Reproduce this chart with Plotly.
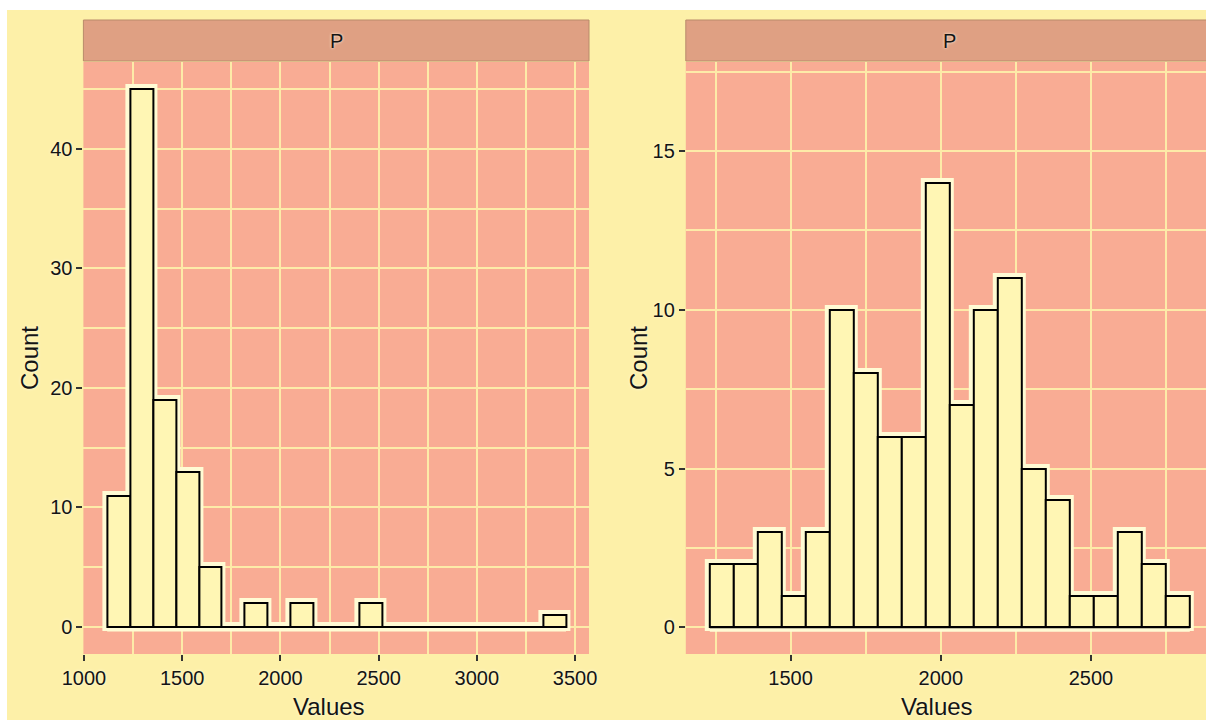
import plotly.graph_objects as go

# ---------------- data ----------------
left_bin_start = 1118.0
left_bin_width = 116.8
left_counts = [11, 45, 19, 13, 5, 0, 2, 0, 2, 0, 0, 2, 0, 0, 0, 0, 0, 0, 0, 1]

right_bin_start = 1231.0
right_bin_width = 79.9
right_counts = [2, 2, 3, 1, 3, 10, 8, 6, 6, 14, 7, 10, 11, 5, 4, 1, 1, 3, 2, 1]

left_xticks = [1000, 1500, 2000, 2500, 3000, 3500]
left_xminor = [1250, 1750, 2250, 2750, 3250]
left_yticks = [0, 10, 20, 30, 40]
left_yminor = [5, 15, 25, 35, 45]

right_xticks = [1500, 2000, 2500]
right_xminor = [1250, 1750, 2250, 2750]
right_yticks = [0, 5, 10, 15]
right_yminor = [2.5, 7.5, 12.5, 17.5]

strip_label = "P"
x_title = "Values"
y_title = "Count"

# ---------------- style ----------------
W, H = 1206, 720
BG = "#FDF0A8"
PANEL = "#F9AC94"
GRID = "#FDEBA8"
STRIP = "#DFA083"
STRIP_EDGE = "#B98A6B"
BAR = "#FFF6B4"
HALO = "#FFFBD4"
INK = "#141414"
FONT = "Liberation Sans, Arial, sans-serif"
SHADOW = "0px 0px 3px #FFFBE6"


def px_x(p):
    return p / W


def px_y(p):
    return (H - p) / H


def centers(start, width, n):
    return [start + width * (i + 0.5) for i in range(n)]


fig = go.Figure()

panels = [
    ("x", "y", left_bin_start, left_bin_width, left_counts),
    ("x2", "y2", right_bin_start, right_bin_width, right_counts),
]

# halo bars
for xa, ya, s, w, c in panels:
    fig.add_trace(go.Bar(
        x=centers(s, w, len(c)), y=c, width=w, xaxis=xa, yaxis=ya,
        marker=dict(color=HALO, line=dict(color=HALO, width=9)),
        hoverinfo="skip", showlegend=False))
# main bars
for xa, ya, s, w, c in panels:
    fig.add_trace(go.Bar(
        x=centers(s, w, len(c)), y=c, width=w, xaxis=xa, yaxis=ya,
        marker=dict(color=BAR, line=dict(color="black", width=2)),
        showlegend=False))
# baseline (zero-count bins drawn flat like ggplot)
for xa, ya, s, w, c in panels:
    fig.add_trace(go.Scatter(
        x=[s, s + w * len(c)], y=[0, 0], xaxis=xa, yaxis=ya,
        mode="lines", line=dict(color="black", width=2),
        hoverinfo="skip", showlegend=False))

shapes = []
for xa, ya, s, w, c in panels:
    shapes.append(dict(type="line", xref=xa, yref=ya, x0=s, x1=s + w * len(c),
                       y0=0, y1=0, line=dict(color=HALO, width=9), layer="between"))

# panel geometry (pixels)
L_X0, L_X1 = 83.4, 589.0
R_X0, R_X1 = 685.8, 1206.0
P_TOP, P_BOT = 62.0, 654.0
S_TOP = 20.0

tickfont = dict(family=FONT, size=20, color=INK, shadow=SHADOW)

common = dict(showgrid=True, gridcolor=GRID, gridwidth=2, zeroline=False,
              showline=False, ticks="outside", ticklen=6, tickwidth=2,
              tickcolor="#333333", tickfont=tickfont, fixedrange=True,
              automargin=False)


def minor(vals):
    return dict(tickvals=vals, showgrid=True, gridcolor=GRID, gridwidth=2, ticks="")


fig.update_layout(
    width=W, height=H,
    margin=dict(l=0, r=0, t=0, b=0, pad=0),
    paper_bgcolor=BG, plot_bgcolor=PANEL,
    barmode="overlay", bargap=0,
    font=dict(family=FONT, color=INK),
    xaxis=dict(domain=[px_x(L_X0), px_x(L_X1)], range=[997, 3571], anchor="y",
               tickvals=left_xticks, minor=minor(left_xminor), **common),
    yaxis=dict(domain=[px_y(P_BOT), px_y(P_TOP)], range=[-2.25, 47.25], anchor="x",
               tickvals=left_yticks, minor=minor(left_yminor), **common),
    xaxis2=dict(domain=[px_x(R_X0), px_x(R_X1)], range=[1151, 2883], anchor="y2",
                tickvals=right_xticks, minor=minor(right_xminor), **common),
    yaxis2=dict(domain=[px_y(P_BOT), px_y(P_TOP)], range=[-0.84, 17.8], anchor="x2",
                tickvals=right_yticks, minor=minor(right_yminor), **common),
)

# white border of the original image (top and left)
shapes.append(dict(type="rect", xref="paper", yref="paper", x0=0, x1=1,
                   y0=px_y(10), y1=1, fillcolor="white", line=dict(width=0), layer="above"))
shapes.append(dict(type="rect", xref="paper", yref="paper", x0=0, x1=px_x(7),
                   y0=0, y1=1, fillcolor="white", line=dict(width=0), layer="above"))

# facet strips
for x0, x1 in [(L_X0, L_X1), (R_X0, R_X1 + 10)]:
    shapes.append(dict(type="rect", xref="paper", yref="paper",
                       x0=px_x(x0), x1=px_x(x1), y0=px_y(P_TOP - 1), y1=px_y(S_TOP),
                       fillcolor=STRIP, line=dict(color=STRIP_EDGE, width=1), layer="above"))

annotations = []
for cx in [(L_X0 + L_X1) / 2, (R_X0 + 1213.7) / 2]:
    annotations.append(dict(text=strip_label, xref="paper", yref="paper",
                            x=px_x(cx), y=px_y((S_TOP + P_TOP) / 2), showarrow=False,
                            xanchor="center", yanchor="middle",
                            font=dict(family=FONT, size=20, color=INK, shadow=SHADOW)))

title_font = dict(family=FONT, size=24, color=INK, shadow=SHADOW)
for cx in [329, 937]:
    annotations.append(dict(text=x_title, xref="paper", yref="paper",
                            x=px_x(cx), y=px_y(706), showarrow=False,
                            xanchor="center", yanchor="middle", font=title_font))
for cx in [29, 638]:
    annotations.append(dict(text=y_title, xref="paper", yref="paper",
                            x=px_x(cx), y=px_y(358), showarrow=False, textangle=-90,
                            xanchor="center", yanchor="middle", font=title_font))

fig.update_layout(shapes=shapes, annotations=annotations)

fig.write_html("out.html", config=dict(displayModeBar=False),
               post_script="document.body.style.margin='0';document.body.style.overflow='hidden';")
